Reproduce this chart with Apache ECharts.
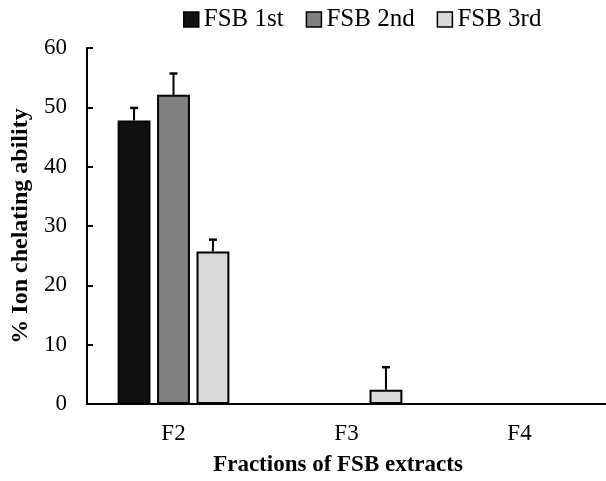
<!DOCTYPE html>
<html>
<head>
<meta charset="utf-8">
<script src="https://cdn.jsdelivr.net/npm/echarts@6/dist/echarts.min.js"></script>
<style>
  html, body { margin: 0; padding: 0; background: #fff; }
  #chart { width: 606px; height: 481px; }
</style>
</head>
<body>
<div id="chart"></div>
<script>
// Fractions and mean ion chelating ability (%) with standard deviations
var categories = ['F2', 'F3', 'F4'];
var seriesNames = ['FSB 1st', 'FSB 2nd', 'FSB 3rd'];
var fsb1st = [47.8, 0, 0];
var fsb2nd = [52.1, 0, 0];
var fsb3rd = [25.7, 2.4, 0];
var err1st = [2.1, 0, 0];
var err2nd = [3.6, 0, 0];
var err3rd = [2.0, 3.8, 0];
var yTicks = [0, 10, 20, 30, 40, 50, 60];

var values = [fsb1st, fsb2nd, fsb3rd];
var errors = [err1st, err2nd, err3rd];
var colors = ['#111111', '#808080', '#d9d9d9'];
var serif = '"Liberation Serif", "DejaVu Serif", serif';

var BAR_FRAC = 0.19;   // bar width as fraction of category band
var GAP_FRAC = 0.2;    // gap between bars as fraction of bar width

var series = [];
values.forEach(function (vals, i) {
  series.push({
    name: seriesNames[i],
    type: 'bar',
    data: vals.map(function (v) { return v > 0 ? v : null; }),
    barWidth: (BAR_FRAC * 100) + '%',
    barGap: (GAP_FRAC * 100) + '%',
    itemStyle: { color: colors[i], borderColor: '#000', borderWidth: 2 }
  });
});

// Upward error bars with a cap, positioned over each bar
values.forEach(function (vals, i) {
  var data = [];
  vals.forEach(function (v, c) {
    if (v > 0 && errors[i][c] > 0) data.push([c, v, v + errors[i][c]]);
  });
  series.push({
    type: 'custom',
    silent: true,
    z: 5,
    data: data,
    renderItem: function (params, api) {
      var band = api.size([1, 0])[0];
      var w = band * BAR_FRAC;
      var g = w * GAP_FRAC;
      var offset = (i - 1) * (w + g);
      var base = api.coord([api.value(0), api.value(1)]);
      var top = api.coord([api.value(0), api.value(2)]);
      var x = base[0] + offset;
      var cap = 4;
      return {
        type: 'group',
        children: [
          { type: 'line', shape: { x1: x, y1: base[1], x2: x, y2: top[1] },
            style: { stroke: '#000', lineWidth: 2 } },
          { type: 'line', shape: { x1: x - cap, y1: top[1], x2: x + cap, y2: top[1] },
            style: { stroke: '#000', lineWidth: 2.5 } }
        ]
      };
    }
  });
});

var chart = echarts.init(document.getElementById('chart'));
chart.setOption({
  animation: false,
  backgroundColor: '#fff',
  legend: {
    data: seriesNames,
    top: 2,
    left: 178,
    itemWidth: 15,
    itemHeight: 15,
    itemGap: 22,
    icon: 'rect',
    textStyle: { fontFamily: serif, fontSize: 25, color: '#000' },
    itemStyle: { borderColor: '#000', borderWidth: 1.5 }
  },
  grid: { left: 87, right: 0, top: 48, bottom: 77, containLabel: false, outerBoundsMode: 'none' },
  xAxis: {
    type: 'category',
    data: categories,
    name: 'Fractions of FSB extracts',
    nameLocation: 'middle',
    nameGap: 50,
    nameTextStyle: { fontFamily: serif, fontSize: 23, fontWeight: 'bold', color: '#000', padding: [0, 0, 0, -17] },
    axisLine: { lineStyle: { color: '#000', width: 2 } },
    axisTick: { show: false },
    axisLabel: { fontFamily: serif, fontSize: 23, color: '#000', margin: 18 }
  },
  yAxis: {
    type: 'value',
    min: yTicks[0],
    max: yTicks[yTicks.length - 1],
    interval: 10,
    name: '% Ion chelating ability',
    nameLocation: 'middle',
    nameGap: 54,
    nameTextStyle: { fontFamily: serif, fontSize: 24, fontWeight: 'bold', color: '#000' },
    axisLine: { show: true, lineStyle: { color: '#000', width: 2 } },
    axisTick: { show: true, inside: true, length: 6, lineStyle: { color: '#000', width: 2 } },
    splitLine: { show: false },
    axisLabel: { fontFamily: serif, fontSize: 23, color: '#000', margin: 20 }
  },
  series: series
});
</script>
</body>
</html>
